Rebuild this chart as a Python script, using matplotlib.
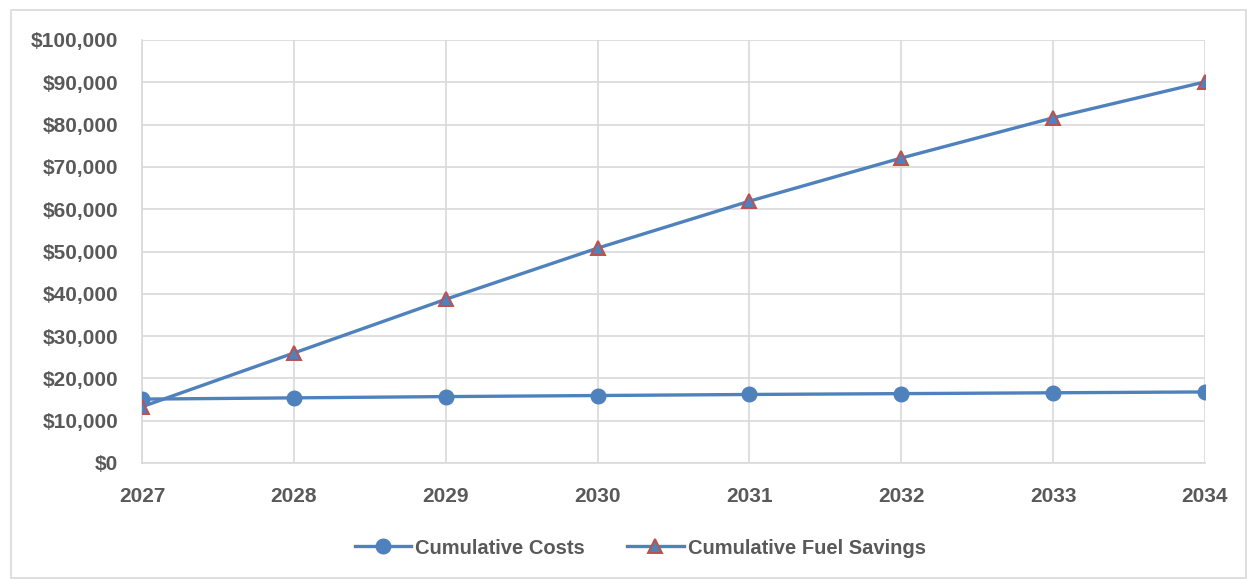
import matplotlib
matplotlib.use("Agg")
import matplotlib.pyplot as plt
from matplotlib.patches import Rectangle
from matplotlib.ticker import FuncFormatter

# data
years = [2027, 2028, 2029, 2030, 2031, 2032, 2033, 2034]
cumulative_costs = [15100, 15400, 15700, 15950, 16200, 16400, 16600, 16800]
cumulative_fuel_savings = [13300, 26000, 38700, 50800, 61900, 72100, 81600, 90100]

blue = "#4f81bd"
red = "#c0504d"
grid_col = "#d9d9d9"
text_col = "#595959"

plt.rcParams['font.family'] = ['Liberation Sans', 'DejaVu Sans']
plt.rcParams['font.weight'] = 'bold'

fig = plt.figure(figsize=(12.48, 5.79), dpi=100)
ax = fig.add_axes([142 / 1248, 1 - 463 / 579, (1205 - 142) / 1248, (463 - 40) / 579])

# outer chart border
fig.patches.append(Rectangle((11 / 1248, 0.002), 1 - 11 / 1248 - 0.002, 1 - 10 / 579 - 0.002,
                             transform=fig.transFigure, fill=False,
                             edgecolor=grid_col, linewidth=1.2))

ax.plot(years, cumulative_costs, color=blue, linewidth=2.4, marker='o',
        markersize=10.5, markerfacecolor=blue, markeredgecolor=blue,
        label="Cumulative Costs", zorder=3)
ax.plot(years, cumulative_fuel_savings, color=blue, linewidth=2.4, marker='^',
        markersize=10.5, markerfacecolor=blue, markeredgecolor=red,
        markeredgewidth=1.4, label="Cumulative Fuel Savings", zorder=3)

ax.set_xlim(2027, 2034)
ax.set_ylim(0, 100000)
ax.set_xticks(years)
ax.set_yticks(range(0, 100001, 10000))
ax.yaxis.set_major_formatter(FuncFormatter(lambda v, p: f"${v:,.0f}"))

ax.grid(True, color=grid_col, linewidth=1.2)
ax.set_axisbelow(True)
for side in ['top', 'right']:
    ax.spines[side].set_visible(False)
for side in ['left', 'bottom']:
    ax.spines[side].set_color(grid_col)
    ax.spines[side].set_linewidth(1.2)

for lbl in ax.get_xticklabels() + ax.get_yticklabels():
    lbl.set_fontweight('bold')
ax.tick_params(axis='both', length=0, labelsize=15, labelcolor=text_col)
ax.tick_params(axis='y', pad=17)
ax.tick_params(axis='x', pad=17)

leg = fig.legend(loc='center', bbox_to_anchor=(0.513, 1 - 548 / 579), ncol=2,
                 frameon=False, labelcolor=text_col,
                 prop={'weight': 'bold', 'size': 14.5},
                 handlelength=2.8, handletextpad=0.2, columnspacing=2.1)

fig.savefig("out.png", dpi=100)
